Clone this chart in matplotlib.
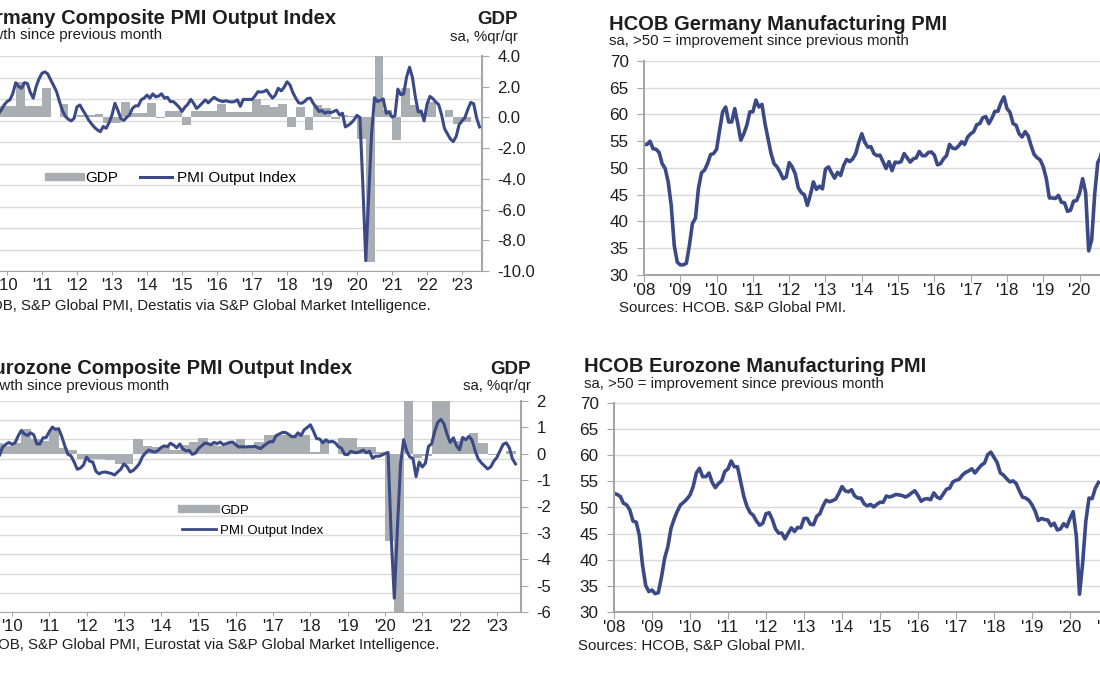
import numpy as np
import matplotlib.pyplot as plt
from matplotlib.lines import Line2D

plt.rcParams['font.family'] = ['Liberation Sans', 'DejaVu Sans']

NAVY = '#3b4a86'
BAR = '#a9aeb2'
GRID = '#dadada'
SPINE = '#a6a6a6'
TXT = '#1e1e1e'
W, H = 1100, 700

# ---- data -------------------------------------------------------------
# Germany composite PMI output index, monthly from Sep 2009 to Jul 2023
de_comp = [50.5, 51.5, 52.4, 53.6,
           54.4, 54.8, 56.3, 58.8, 57.9, 57.5, 58.8, 58.6, 56.5, 55.2, 57.9, 59.7,
           61.0, 61.3, 60.8, 59.4, 58.1, 56.7, 54.4, 52.3, 51.0, 50.3, 49.9, 50.5,
           53.2, 53.6, 52.4, 51.3, 50.1, 49.2, 48.4, 47.8, 47.4, 48.6, 48.2, 49.5,
           51.3, 54.0, 52.4, 50.5, 50.0, 50.7, 51.3, 52.8, 53.4, 53.4, 54.8, 55.2,
           55.9, 55.2, 56.2, 55.5, 55.7, 56.2, 55.2, 55.4, 54.4, 54.4, 53.8, 53.1,
           52.1, 53.1, 53.8, 54.9, 54.0, 52.8, 53.4, 54.1, 54.8, 54.1, 54.8, 55.4,
           54.9, 54.6, 54.4, 54.6, 54.4, 54.3, 54.4, 54.8, 53.3, 54.9, 54.9, 54.9,
           54.9, 55.7, 56.7, 56.6, 56.7, 57.1, 56.1, 55.2, 55.9, 57.5, 56.9, 57.7,
           59.0, 58.3, 56.5, 55.2, 54.1, 54.0, 54.4, 55.1, 55.2, 54.0, 53.1, 52.1,
           52.3, 51.7, 52.0, 51.8, 52.1, 52.4, 51.3, 51.7, 48.5, 48.9, 49.4, 50.2,
           51.2, 50.7, 35.0, 17.4, 32.3, 47.0, 55.3, 54.4, 54.7, 55.0, 51.7, 52.0,
           50.8, 51.1, 57.3, 56.0, 56.2, 60.1, 62.4, 60.0, 55.5, 52.0, 52.2, 49.9,
           53.8, 55.6, 55.1, 54.3, 53.7, 51.3, 48.1, 46.9, 45.7, 45.1, 46.3, 49.0,
           49.9, 50.7, 52.6, 54.2, 53.9, 50.6, 48.5]
# Germany GDP, % q/q, from Q3 2009 to Q2 2023
de_gdp = [0.7, 0.75,
          0.75, 2.3, 0.75, 0.75,
          1.9, 0.05, 0.85, 0.0,
          0.15, 0.15, 0.25, -0.35,
          -0.35, 1.0, 0.3, 0.3,
          0.95, -0.05, 0.45, 0.45,
          -0.5, 0.4, 0.4, 0.4,
          0.85, 0.37, 0.33, 0.33,
          1.2, 0.8, 0.7, 0.85,
          -0.6, 0.7, -0.8, 0.8,
          0.6, -0.1, 0.15, 0.1,
          -1.4, -9.4, 8.7, 0.5,
          -1.5, 1.9, 0.8, 0.3,
          1.0, 0.0, 0.5, -0.4,
          -0.3, 0.0]

# Eurozone composite PMI output index, monthly from Aug 2009 to Jul 2023
ez_comp = [50.4, 50.8, 53.0, 53.7, 54.2,
           53.7, 54.1, 55.9, 57.3, 56.4, 56.0, 56.7, 56.2, 53.8, 53.8, 55.4, 55.5,
           57.0, 58.2, 57.6, 57.8, 55.8, 53.3, 51.1, 50.7, 49.1, 47.2, 47.5, 48.3,
           50.4, 49.3, 49.1, 46.7, 46.0, 46.4, 46.5, 46.3, 46.1, 45.7, 46.5, 47.2,
           48.6, 47.9, 46.5, 46.9, 47.7, 48.7, 50.5, 51.5, 52.2, 51.9, 51.7, 52.1,
           52.9, 53.3, 53.1, 54.0, 53.5, 52.8, 53.8, 52.5, 52.0, 52.1, 51.1, 51.4,
           52.6, 53.3, 54.0, 53.9, 53.6, 54.2, 53.9, 54.3, 53.6, 53.9, 54.2, 54.3,
           53.6, 53.0, 53.1, 53.0, 53.1, 53.1, 53.2, 52.9, 52.6, 53.3, 53.9, 54.4,
           54.4, 56.0, 56.4, 56.8, 56.8, 56.3, 55.7, 55.7, 56.7, 56.0, 57.5, 58.1,
           58.8, 57.1, 55.2, 55.1, 54.1, 54.9, 54.3, 54.5, 54.1, 53.1, 52.7, 51.1,
           51.0, 51.9, 51.6, 51.5, 51.8, 52.2, 51.5, 51.9, 50.1, 50.6, 50.6, 50.9,
           51.3, 51.6, 29.7, 13.6, 31.9, 48.5, 54.9, 51.9, 50.4, 50.0, 45.3, 49.1,
           47.8, 48.8, 53.2, 53.8, 57.1, 59.5, 60.2, 59.0, 56.2, 54.2, 55.4, 53.3,
           52.3, 55.5, 54.9, 55.8, 54.8, 52.0, 49.9, 48.9, 48.1, 47.3, 47.8, 49.3,
           50.3, 52.0, 53.7, 54.1, 52.8, 49.9, 48.6]
# Eurozone GDP, % q/q, from Q3 2009 to Q2 2023
ez_gdp = [0.4, 0.3,
          0.4, 0.95, 0.55, 0.5,
          0.95, 0.2, 0.15, -0.2,
          -0.2, -0.2, -0.25, -0.4,
          -0.4, 0.55, 0.3, 0.25,
          0.3, 0.15, 0.35, 0.45,
          0.6, 0.35, 0.3, 0.4,
          0.55, 0.3, 0.45, 0.7,
          0.7, 0.7, 0.7, 0.7,
          0.05, 0.45, 0.0, 0.6,
          0.6, 0.25, 0.25, 0.05,
          -3.3, -11.6, 12.5, -0.15,
          -0.1, 2.2, 2.2, 0.5,
          0.6, 0.8, 0.4, -0.05,
          0.0, 0.1]

# Manufacturing PMIs, monthly from Jan 2008 to Oct 2020
de_mfg = [54.4, 54.4, 55.0, 53.6, 53.5, 52.9, 50.8, 49.9, 47.4, 43.0, 35.5, 32.4,
          31.9, 31.9, 32.2, 35.5, 39.6, 40.6, 46.2, 49.1, 49.6, 50.8, 52.5, 52.7,
          53.5, 57.1, 60.5, 61.4, 58.6, 58.6, 61.1, 58.3, 55.2, 56.4, 58.0, 60.5,
          60.5, 62.7, 61.4, 61.9, 58.3, 55.5, 52.7, 50.8, 50.2, 49.2, 48.0, 48.3,
          51.0, 50.2, 48.9, 46.3, 45.4, 45.0, 43.0, 45.0, 47.4, 46.0, 46.6, 46.1,
          49.8, 50.2, 49.1, 48.1, 49.2, 48.6, 50.5, 51.6, 51.2, 51.7, 52.7, 54.8,
          56.4, 54.8, 53.9, 54.0, 52.7, 52.3, 52.4, 51.2, 49.9, 51.2, 49.5, 51.1,
          51.0, 51.2, 52.7, 51.9, 51.1, 51.7, 51.9, 53.1, 52.3, 52.3, 52.9, 53.0,
          52.4, 50.6, 50.8, 51.7, 52.3, 54.4, 53.7, 53.6, 54.1, 54.9, 54.4, 55.8,
          56.4, 56.8, 58.1, 58.3, 59.4, 59.6, 58.3, 59.3, 60.6, 60.6, 62.2, 63.3,
          61.1, 60.4, 58.3, 58.0, 56.4, 55.8, 56.8, 56.0, 54.1, 52.5, 51.9, 51.5,
          50.2, 48.0, 44.4, 44.4, 44.3, 44.9, 43.6, 43.5, 41.9, 42.1, 43.8, 43.9,
          45.3, 48.0, 45.4, 34.5, 36.6, 45.2, 51.0, 52.2, 56.4, 58.2]
ez_mfg = [52.7, 52.5, 52.1, 50.8, 50.5, 49.5, 47.4, 47.2, 44.7, 39.0, 35.1, 33.9,
          34.2, 33.5, 33.7, 36.7, 40.3, 42.5, 46.0, 47.8, 49.3, 50.5, 51.0, 51.6,
          52.4, 54.0, 56.6, 57.5, 55.9, 55.9, 56.6, 54.8, 53.8, 54.6, 55.1, 56.9,
          57.4, 58.9, 57.8, 57.8, 55.0, 52.1, 50.2, 49.0, 48.5, 47.4, 46.6, 47.0,
          48.8, 49.0, 47.7, 45.9, 45.1, 45.1, 44.0, 45.1, 46.1, 45.4, 46.2, 46.1,
          47.9, 47.9, 46.8, 46.7, 48.3, 48.8, 50.3, 51.4, 51.1, 51.3, 51.6, 52.7,
          54.0, 53.2, 53.0, 53.4, 52.2, 51.8, 51.8, 50.7, 50.3, 50.6, 50.1, 50.6,
          51.0, 51.0, 52.2, 52.0, 52.2, 52.5, 52.4, 52.3, 52.0, 52.3, 52.8, 53.2,
          52.3, 51.2, 51.6, 51.7, 51.5, 52.8, 52.0, 51.7, 52.6, 53.5, 53.7, 54.9,
          55.2, 55.4, 56.2, 56.7, 57.0, 57.4, 56.6, 57.4, 58.1, 58.5, 60.1, 60.6,
          59.6, 58.6, 56.6, 56.2, 55.5, 54.9, 55.1, 54.6, 53.2, 52.0, 51.8, 51.4,
          50.5, 49.3, 47.5, 47.9, 47.7, 47.6, 46.5, 47.0, 45.7, 45.9, 46.9, 46.3,
          47.9, 49.2, 44.5, 33.4, 39.4, 47.4, 51.8, 51.7, 53.7, 54.8]

comp_years = list(range(2010, 2024))
mfg_years = list(range(2008, 2024))
de_gdp_ticks = [4, 2, 0, -2, -4, -6, -8, -10]
ez_gdp_ticks = [2, 1, 0, -1, -2, -3, -4, -5, -6]

TITLE = 14.5
SUB = 10.8
TICK = 12.3


def months(y, m, n):
    return y + (m - 1) / 12 + np.arange(n) / 12


def quarters(y, q, n):
    return y + (q - 1) / 4 + np.arange(n) / 4


def px_axes(fig, left, top, right, bottom):
    return fig.add_axes([left / W, 1 - bottom / H, (right - left) / W, (bottom - top) / H])


def ftext(fig, x, y, s, **kw):
    kw.setdefault('color', TXT)
    fig.text(x / W, 1 - y / H, s, va='center', **kw)


def year_labels(ax, years, size):
    ax.set_xticks(years)
    ax.set_xticklabels(["'" + str(y)[2:] for y in years], fontsize=size, color=TXT)


def composite(fig, box, xlim, pmi_lim, gdp_lim, gdp_ticks, gdp_fmt, t_pmi, pmi, t_gdp, gdp):
    ax = px_axes(fig, *box)
    ax.set_xlim(xlim)
    ax.set_ylim(pmi_lim)
    ax.set_yticks(np.arange(pmi_lim[0], pmi_lim[1] + 1, 5))
    ax.yaxis.grid(True, color=GRID, lw=1)
    ax.tick_params(axis='y', left=False, labelleft=False)
    for s in ['top', 'left', 'right']:
        ax.spines[s].set_visible(False)
    ax.spines['bottom'].set_color(SPINE)
    ax.tick_params(axis='x', color=SPINE, length=3, pad=2)
    year_labels(ax, comp_years, 12)

    axg = ax.twinx()
    axg.bar(t_gdp, gdp, width=0.25, align='edge', color=BAR, lw=0)
    axg.set_ylim(gdp_lim)
    axg.set_yticks(gdp_ticks)
    axg.set_yticklabels([gdp_fmt.format(v) for v in gdp_ticks], fontsize=12, color=TXT)
    for s in ['top', 'left', 'bottom']:
        axg.spines[s].set_visible(False)
    axg.spines['right'].set_color(SPINE)
    axg.spines['right'].set_linewidth(1.5)
    axg.tick_params(axis='y', color=SPINE, length=5, pad=6)

    axl = ax.twinx()
    axl.set_ylim(pmi_lim)
    axl.plot(t_pmi, pmi, color=NAVY, lw=2.2)
    axl.axis('off')


fig = plt.figure(figsize=(11, 7), dpi=100)

# ---- top left: Germany composite ---------------------------------------
composite(fig, (-10.5, 56, 482, 271), (2009.5, 2023.571), (15, 65), (-10, 4),
          de_gdp_ticks, '{:.1f}', months(2009, 9, len(de_comp)), de_comp,
          quarters(2009, 3, len(de_gdp)), de_gdp)
ftext(fig, 336, 19, 'Germany Composite PMI Output Index', ha='right', fontsize=TITLE, fontweight='bold')
ftext(fig, 162, 35, 'sa, >50 = growth since previous month', ha='right', fontsize=SUB)
ftext(fig, 518, 20, 'GDP', ha='right', fontsize=13.5, fontweight='bold')
ftext(fig, 518, 37, 'sa, %qr/qr', ha='right', fontsize=SUB)
ftext(fig, 431, 306, 'Sources: HCOB, S&P Global PMI, Destatis via S&P Global Market Intelligence.',
      ha='right', fontsize=SUB)
fig.legend([Line2D([], [], color=BAR, lw=6), Line2D([], [], color=NAVY, lw=2.2)],
           ['GDP', 'PMI Output Index'], loc='center left', bbox_to_anchor=(49 / W, 1 - 178 / H),
           ncol=2, frameon=False, fontsize=11, handlelength=2.1, handletextpad=0.3,
           columnspacing=1.4, borderpad=0, borderaxespad=0)

# ---- bottom left: Eurozone composite -----------------------------------
composite(fig, (-6.7, 401, 521, 612), (2009.5, 2023.646), (10, 65), (-6, 2),
          ez_gdp_ticks, '{:d}', months(2009, 8, len(ez_comp)), ez_comp,
          quarters(2009, 3, len(ez_gdp)), ez_gdp)
ftext(fig, 352, 369, 'Eurozone Composite PMI Output Index', ha='right', fontsize=TITLE, fontweight='bold')
ftext(fig, 169, 386, 'sa, >50 = growth since previous month', ha='right', fontsize=SUB)
ftext(fig, 531, 370, 'GDP', ha='right', fontsize=13.5, fontweight='bold')
ftext(fig, 531, 386, 'sa, %qr/qr', ha='right', fontsize=SUB)
ftext(fig, 439, 645, 'Sources: HCOB, S&P Global PMI, Eurostat via S&P Global Market Intelligence.',
      ha='right', fontsize=SUB)
fig.legend([Line2D([], [], color=BAR, lw=6), Line2D([], [], color=NAVY, lw=2)],
           ['GDP', 'PMI Output Index'], loc='center left', bbox_to_anchor=(182 / W, 1 - 520.5 / H),
           ncol=1, frameon=False, fontsize=9.5, handlelength=2.6, handletextpad=0.3,
           labelspacing=0.6, borderpad=0, borderaxespad=0)


# ---- right: manufacturing PMIs -----------------------------------------
def mfg_panel(box, t, vals):
    ax = px_axes(fig, *box)
    ax.plot(t, vals, color=NAVY, lw=2.6)
    ax.set_xlim(2008, 2023)
    ax.set_ylim(30, 70)
    ax.set_yticks(range(30, 71, 5))
    ax.yaxis.grid(True, color=GRID, lw=1)
    for s in ['top', 'right']:
        ax.spines[s].set_visible(False)
    for s in ['left', 'bottom']:
        ax.spines[s].set_color(SPINE)
        ax.spines[s].set_linewidth(1.5)
    ax.tick_params(axis='y', labelsize=TICK, labelcolor=TXT, color=SPINE, length=5, pad=6)
    ax.tick_params(axis='x', color=SPINE, length=5, pad=1)
    year_labels(ax, mfg_years, TICK)
    return ax


mfg_panel((644, 61, 1188.5, 275), months(2008, 1, len(de_mfg)), de_mfg)
ftext(fig, 609, 24, 'HCOB Germany Manufacturing PMI', fontsize=TITLE, fontweight='bold')
ftext(fig, 609, 41, 'sa, >50 = improvement since previous month', fontsize=SUB)
ftext(fig, 619, 308, 'Sources: HCOB. S&P Global PMI.', fontsize=SUB)

mfg_panel((614, 403, 1184, 612), months(2008, 1, len(ez_mfg)), ez_mfg)
ftext(fig, 584, 367, 'HCOB Eurozone Manufacturing PMI', fontsize=TITLE, fontweight='bold')
ftext(fig, 584, 384, 'sa, >50 = improvement since previous month', fontsize=SUB)
ftext(fig, 578, 646, 'Sources: HCOB, S&P Global PMI.', fontsize=SUB)

fig.savefig('out.png', dpi=100, facecolor='white')
